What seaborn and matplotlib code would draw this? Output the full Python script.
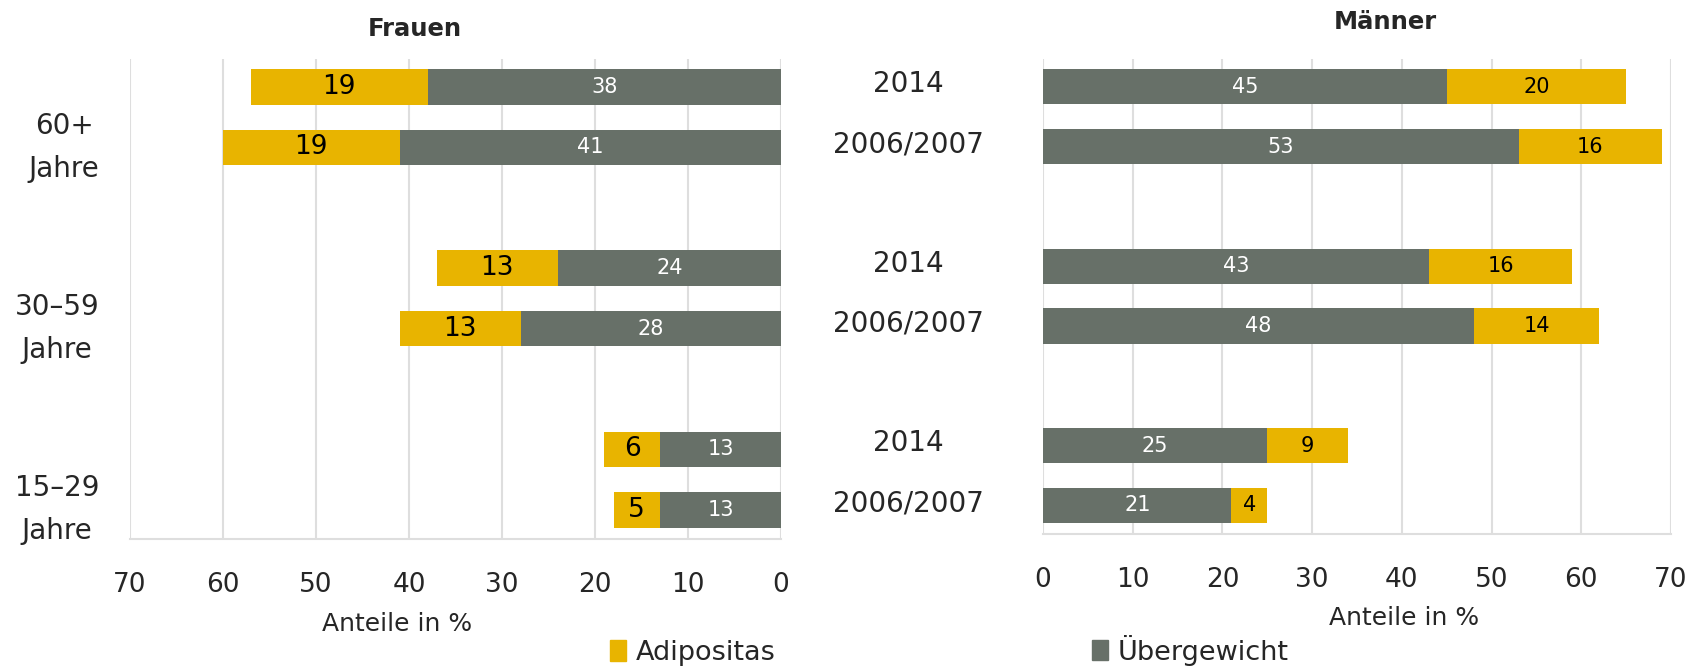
import pandas as pd
import matplotlib
matplotlib.use("Agg")
import matplotlib.pyplot as plt
from matplotlib.patches import Patch
import seaborn as sns

# data
groups = ["60+\nJahre", "30–59\nJahre", "15–29\nJahre"]
years = ["2014", "2006/2007"]
frauen_ueber = [38, 41, 24, 28, 13, 13]
frauen_adipo = [19, 19, 13, 13, 6, 5]
maenner_ueber = [45, 53, 43, 48, 25, 21]
maenner_adipo = [20, 16, 16, 14, 9, 4]
x_ticks = [0, 10, 20, 30, 40, 50, 60, 70]

YELLOW = "#e8b400"
GREY = "#677068"

sns.set_theme(style="white")
plt.rcParams["font.family"] = ["DejaVu Sans"]

pos = [g * 3 + i for g in range(len(groups)) for i in range(len(years))]
df = pd.DataFrame({
    "pos": pos,
    "year": years * len(groups),
    "fu": frauen_ueber, "fa": frauen_adipo,
    "mu": maenner_ueber, "ma": maenner_adipo,
})
df["f_tot"] = df["fu"] + df["fa"]
df["m_tot"] = df["mu"] + df["ma"]

fig = plt.figure(figsize=(16.9, 6.66), dpi=100)
axl = fig.add_axes([0.0769, 0.191, 0.3852, 0.720])
axr = fig.add_axes([0.6172, 0.198, 0.3716, 0.713])


def draw(ax, ue, ad, tot, adip_size):
    sns.barplot(data=df, x=tot, y="pos", orient="h", native_scale=True,
                color=YELLOW, saturation=1, width=0.59, linewidth=0, ax=ax)
    sns.barplot(data=df, x=ue, y="pos", orient="h", native_scale=True,
                color=GREY, saturation=1, width=0.59, linewidth=0, ax=ax)
    for _, r in df.iterrows():
        ax.text(r[ue] / 2, r["pos"], str(r[ue]), ha="center", va="center",
                color="white", fontsize=15)
        ax.text(r[ue] + r[ad] / 2, r["pos"], str(r[ad]), ha="center",
                va="center", color="black", fontsize=adip_size)
    ax.set_ylim(7.48, -0.46)
    ax.set_xticks(x_ticks)
    ax.set_xticklabels([str(t) for t in x_ticks], fontsize=19)
    ax.grid(axis="x", color="#dedede", linewidth=1.5)
    ax.set_axisbelow(True)
    for s in ["top", "right", "left"]:
        ax.spines[s].set_visible(False)
    ax.spines["bottom"].set_color("#dedede")
    ax.spines["bottom"].set_linewidth(1.5)
    ax.tick_params(axis="both", length=0)
    ax.set_ylabel("")
    ax.set_xlabel("Anteile in %", fontsize=18)


draw(axl, "fu", "fa", "f_tot", 19)
draw(axr, "mu", "ma", "m_tot", 15)

axl.set_xlim(70, 0)
axl.set_yticks([g * 3 + 0.82 for g in range(len(groups))])
axl.set_yticklabels(groups, fontsize=20, linespacing=1.7, multialignment="center")
axl.tick_params(axis="y", pad=22)
axl.tick_params(axis="x", pad=24)
axl.xaxis.set_label_coords(0.41, -0.152)

axr.set_xlim(0, 70)
axr.set_yticks([p - 0.09 for p in pos])
axr.set_yticklabels(df["year"], fontsize=20)
for lab in axr.get_yticklabels():
    lab.set_horizontalalignment("center")
axr.tick_params(axis="y", pad=97)
axr.tick_params(axis="x", pad=24)
axr.xaxis.set_label_coords(0.575, -0.152)

fig.text(0.2456, 0.956, "Frauen", ha="center", va="center", fontsize=17.5, fontweight="bold")
fig.text(0.8195, 0.967, "Männer", ha="center", va="center", fontsize=17.5, fontweight="bold")

fig.legend(handles=[Patch(color=YELLOW, label="Adipositas")], loc="center left",
           bbox_to_anchor=(0.361, 0.02), frameon=False, borderpad=0,
           borderaxespad=0, handlelength=0.6, handleheight=0.8, handletextpad=0.35,
           fontsize=19.5)
fig.legend(handles=[Patch(color=GREY, label="Übergewicht")], loc="center left",
           bbox_to_anchor=(0.646, 0.024), frameon=False, borderpad=0,
           borderaxespad=0, handlelength=0.6, handleheight=0.8, handletextpad=0.35,
           fontsize=19.5)

fig.savefig("out.png", dpi=100)
